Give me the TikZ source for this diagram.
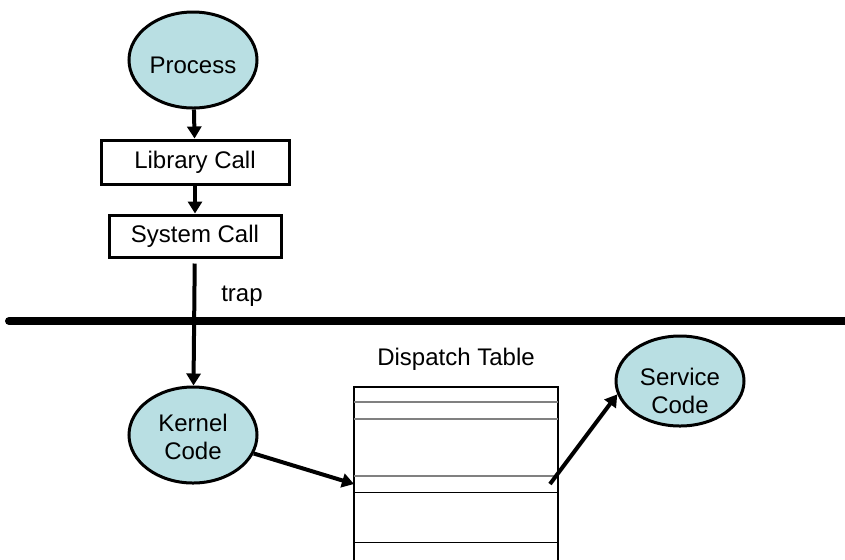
\documentclass[tikz,border=0pt]{standalone}
\usepackage{fontspec}
\setmainfont{Liberation Sans}
\usetikzlibrary{arrows.meta,shapes.geometric}
\definecolor{procblue}{RGB}{185,223,227}
\begin{document}
\begin{tikzpicture}[x=0.5pt,y=-0.5pt,
  every node/.style={font=\fontsize{12}{14}\selectfont},
  every label/.style={align=center, inner sep=0pt},
  proc/.style={ellipse, draw, line width=1.5pt, fill=procblue, minimum width=64pt, minimum height=48pt, inner sep=0pt},
  callbox/.style={rectangle, draw, line width=1.5pt, inner sep=0pt},
  flow/.style={line width=2pt, -{Triangle[width=7pt,length=6pt]}}]
\useasboundingbox (0,0) rectangle (845,559);

\node [proc, label={[yshift=-2.5pt]center:Process}] (process) at (193,60) {};
\node [callbox, minimum width=94pt, minimum height=22pt] (libcall) at (195,162) {Library Call};
\node [callbox, minimum width=86pt, minimum height=21pt] (syscall) at (195,236) {System Call};
\node [proc, label={[yshift=-1pt]center:Kernel\\Code}] (kernel) at (193,435) {};
\node [proc, minimum height=45pt, label={[yshift=-5pt]center:Service\\Code}] (service) at (680,381) {};

\node (trap) at (242,296) {trap};
\node (dtlabel) at (456,359) {Dispatch Table};

% user / kernel boundary
\coordinate (trapL) at (9,321);
\coordinate (trapR) at (860,321);
\draw [line width=4pt, line cap=round] (trapL) -- (trapR);

% dispatch table, bottom cut off
\coordinate (dtTL) at (354,387);
\coordinate (dtTR) at (558,387);
\draw [line width=0.75pt] (354,570) |- (dtTR) -- (558,570);
\draw [gray, line width=0.6pt] (354,402) -- (558,402);
\draw [gray, line width=0.6pt] (354,419) -- (558,419);
\draw [gray, line width=0.6pt] (354,476) -- (558,476);
\draw [line width=0.5pt] (354,492) -- (558,492);
\draw [line width=0.5pt] (354,542) -- (558,542);
\coordinate (slotin) at (354,484);
\coordinate (slotout) at (550,484);

\draw [flow] (process) -- (libcall);
\draw [flow] (libcall) -- (syscall);
\draw [flow, shorten <=2.5pt] (syscall) -- (kernel);
\draw [flow] (kernel) -- (slotin);
\draw [flow] (slotout) -- (service.192);
\end{tikzpicture}
\end{document}
